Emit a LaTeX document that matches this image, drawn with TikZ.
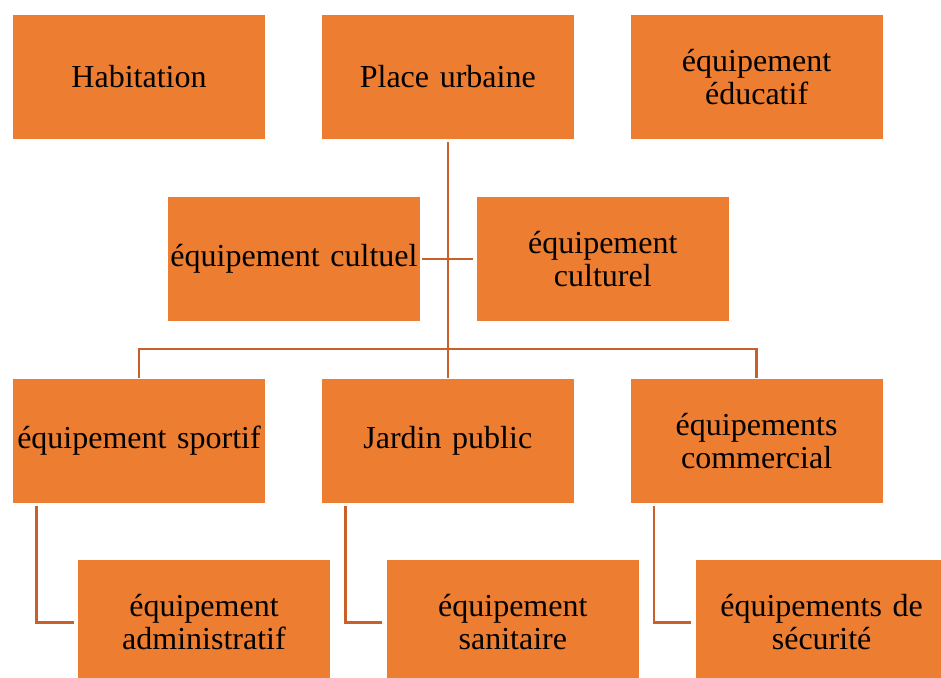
\documentclass[tikz,border=0pt]{standalone}
\usepackage{fontspec}
\setmainfont{Liberation Serif}
\usetikzlibrary{
  positioning,  % Function "of" (e.g. [right=of x])
}
\definecolor{boxorange}{HTML}{ED7D31}
\definecolor{lineorange}{HTML}{C8602A}
\def\myvdist{28.5pt}
\def\myhdist{28pt}
\def\myrowshift{77.5pt}
\def\mysubshift{32.5pt}
\tikzset{
  my box/.style={
    fill=boxorange,
    draw=none,
    minimum width=126pt,
    minimum height=62pt,
    inner sep=0pt,
    text width=126pt,
    align=center,
    font=\fontsize{16}{16.5}\selectfont,
    rectangle
  },
  my line/.style={
    draw=lineorange,
    line width=1.2pt
  }
}
\begin{document}
\begin{tikzpicture}[node distance=\myvdist and \myhdist]
\useasboundingbox (-69.5pt,38.5pt) rectangle ++(470.5pt,-338.5pt);
% first row
\node[my box]                  (hab)   {Habitation};
\node[my box] [right=of hab]   (place) {Place urbaine};
\node[my box] [right=of place] (edu)   {équipement\\éducatif};
% second row
\node[my box] [below=of hab, xshift=\myrowshift] (cultuel)  {équipement cultuel};
\node[my box] [right=of cultuel]                 (culturel) {équipement\\culturel};
% third row
\node[my box] [below=of cultuel, xshift=-\myrowshift] (sport)  {équipement sportif};
\node[my box] [right=of sport]                        (jardin) {Jardin public};
\node[my box] [right=of jardin]                       (comm)   {équipements\\commercial};
% fourth row
\node[my box] [below=of sport, xshift=\mysubshift] (admin) {équipement\\administratif};
\node[my box] [right=of admin]                     (sani)  {équipement\\sanitaire};
\node[my box] [right=of sani]                      (secu)  {équipements de\\sécurité};
\coordinate[below=14pt of cultuel.south] (bus);
% connectors
\draw[my line, shorten <=1.5pt] (place.south) -- (place.south |- bus);
\draw[my line] (sport.north) -- (sport.north |- bus) -- (comm.north |- bus) -- (comm.north);
\draw[my line] (jardin.north) -- (jardin.north |- bus);
\draw[my line, shorten <=1pt, shorten >=1.5pt] (cultuel.east) -- (culturel.west);
\draw[my line, shorten <=1.5pt, shorten >=2pt] ([xshift=12pt]sport.south west) |- (admin.west);
\draw[my line, shorten <=1.5pt, shorten >=2pt] ([xshift=12pt]jardin.south west) |- (sani.west);
\draw[my line, shorten <=1.5pt, shorten >=2pt] ([xshift=12pt]comm.south west) |- (secu.west);
\end{tikzpicture}
\end{document}
